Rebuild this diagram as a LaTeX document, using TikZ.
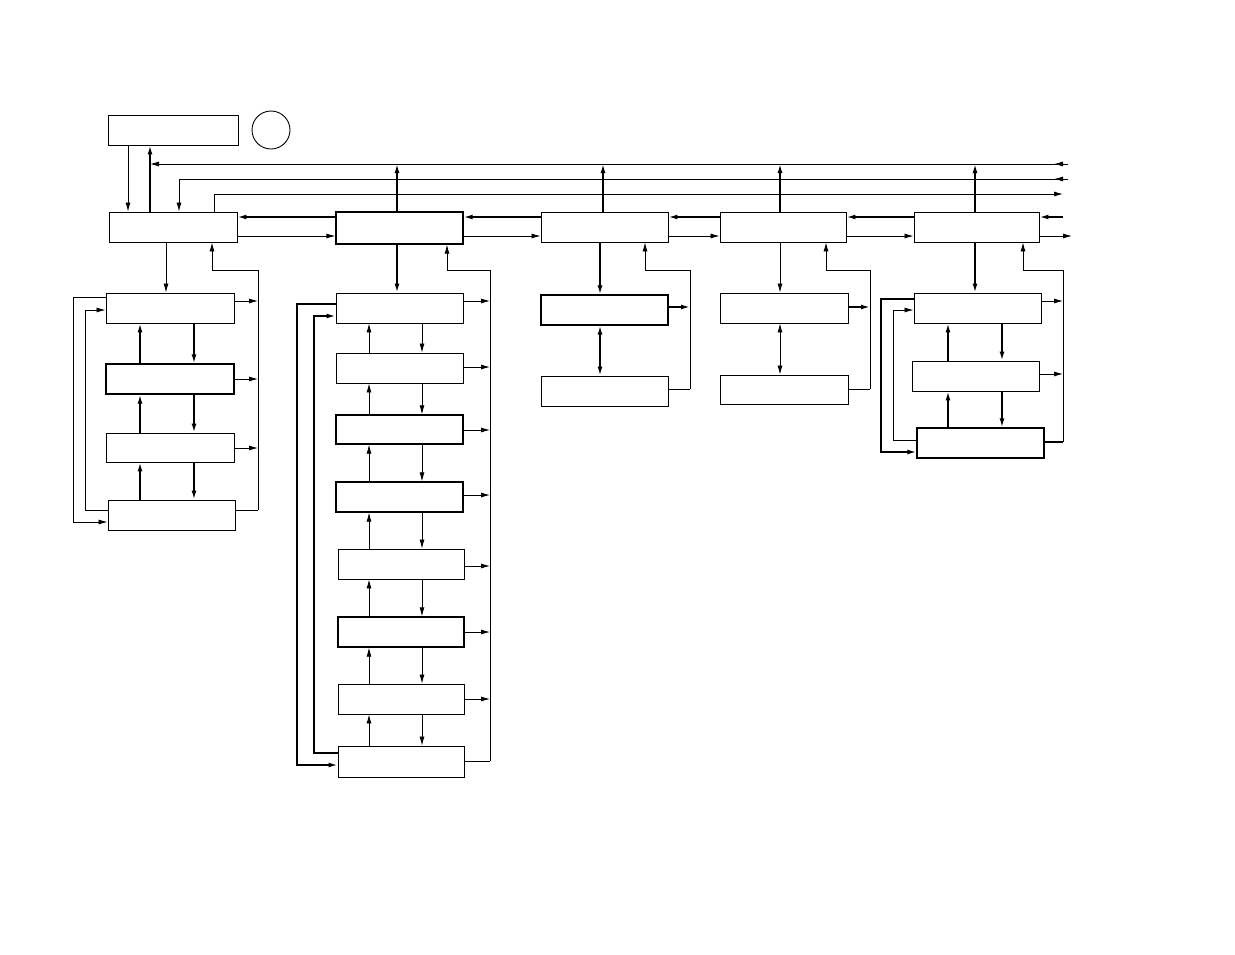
\documentclass[tikz,border=0pt]{standalone}
\usetikzlibrary{arrows.meta}
\begin{document}
\begin{tikzpicture}[x=1pt,y=-1pt,
  box/.style={draw,rectangle,inner sep=0pt,line width=0.9pt},
  tbox/.style={box,line width=1.3pt},
  thin/.style={line width=0.8pt},
  thick/.style={line width=1.6pt},
  ar/.style={-{Latex[length=9pt,width=5pt]}},
  dar/.style={{Latex[length=9pt,width=5pt]}-{Latex[length=9pt,width=5pt]}}]
\useasboundingbox (0,0) rectangle (1235,954);
\newcommand\bx[6]{\node[#6,minimum width={#4-#2},minimum height={#5-#3}] (#1) at ({(#2+#4)/2},{(#3+#5)/2}) {};}
\bx{T}{108}{115}{238}{145}{box}
\node[draw,circle,minimum size=38pt,inner sep=0pt,line width=0.9pt] (O) at (271,130) {};
\bx{A}{109}{212}{237}{242}{box}
\bx{B}{336}{212}{463}{244}{tbox}
\bx{C}{541}{212}{668}{242}{box}
\bx{D}{720}{212}{846}{242}{box}
\bx{E}{914}{212}{1039}{242}{box}
% A column
\bx{A1}{106}{293}{234}{323}{box}
\bx{A2}{106}{364}{234}{394}{tbox}
\bx{A3}{106}{433}{234}{462}{box}
\bx{A4}{108}{500}{235}{530}{box}
% B column
\bx{B1}{336}{293}{463}{323}{box}
\bx{B2}{336}{353}{463}{383}{box}
\bx{B3}{336}{415}{463}{444}{tbox}
\bx{B4}{336}{482}{463}{512}{tbox}
\bx{B5}{338}{549}{464}{579}{box}
\bx{B6}{338}{617}{464}{647}{tbox}
\bx{B7}{338}{684}{464}{714}{box}
\bx{B8}{338}{746}{464}{777}{box}
% C, D
\bx{C1}{541}{295}{668}{325}{tbox}
\bx{C2}{541}{376}{668}{406}{box}
\bx{D1}{720}{293}{848}{323}{box}
\bx{D2}{720}{375}{848}{404}{box}
% E
\bx{E1}{914}{293}{1041}{323}{box}
\bx{E2}{912}{361}{1039}{391}{box}
\bx{E3}{917}{428}{1044}{458}{tbox}
% bus ends on the right
\coordinate (r1) at (1063,164);
\coordinate (r2) at (1063,179);
\coordinate (r3) at (1063,194);
\coordinate (r4) at (1063,217);
\coordinate (r5) at (1072,236);
% top buses
\draw[thin,ar] (r1) -- (150,164);
\draw[thin,ar] (1068,164) -- (1054,164);
\draw[thin,ar] (1068,179) -- (1054,179);
\draw[thin] (r2) -- (179,179);
\draw[thin,ar] (179,179) -- (A.north -| 179,0);
\draw[thin,ar] (A.north -| 214,0) -- (214,194) -- (r3);
\draw[thin,ar] (T.south -| 128,0) -- (A.north -| 128,0);
\draw[thick,ar] (A.north -| 150,0) -- (T.south -| 150,0);
\foreach \n/\x in {B/397,C/603,D/780,E/975}
  \draw[thick,ar] (\n.north -| \x,0) -- (\x,164);
% row horizontal links
\foreach \l/\r in {A/B,B/C,C/D,D/E}{
  \draw[thick,ar] (\r.west |- 0,217) -- (\l.east |- 0,217);
  \draw[thin,ar] (\l.east |- 0,236) -- (\r.west |- 0,236);}
\draw[thick,ar] (r4) -- (E.east |- 0,217);
\draw[thin,ar] (E.east |- 0,236) -- (r5);
% A column
\draw[thin,ar] (A.south -| 166,0) -- (A1.north -| 166,0);
\draw[thin,ar] (258,510) -- (258,270) -- (212,270) -- (A.south -| 212,0);
\draw[thin] (A4.east |- 0,510) -- (258,510);
\foreach \b/\y in {A1/301,A2/379,A3/448} \draw[thin,ar] (\b.east |- 0,\y) -- (258,\y);
\foreach \u/\d in {A1/A2,A2/A3,A3/A4}{
  \draw[thick,ar] (\d.north -| 140,0) -- (\u.south -| 140,0);
  \draw[thick,ar] (\u.south -| 194,0) -- (\d.north -| 194,0);}
\draw[thin,ar] (A1.west |- 0,297) -- (73,297) -- (73,522) -- (A4.west |- 0,522);
\draw[thin,ar] (A4.west |- 0,510) -- (85,510) -- (85,310) -- (A1.west |- 0,310);
% B column
\draw[thick,ar] (B.south -| 397,0) -- (B1.north -| 397,0);
\draw[thin,ar] (490,761) -- (490,270) -- (447,270) -- (B.south -| 447,0);
\draw[thin] (B8.east |- 0,761) -- (490,761);
\foreach \b/\y in {B1/301,B2/367,B3/430,B4/495,B5/566,B6/632,B7/699} \draw[thin,ar] (\b.east |- 0,\y) -- (490,\y);
\foreach \u/\d in {B1/B2,B2/B3,B3/B4,B4/B5,B5/B6,B6/B7,B7/B8}{
  \draw[thin,ar] (\d.north -| 369,0) -- (\u.south -| 369,0);
  \draw[thin,ar] (\u.south -| 422,0) -- (\d.north -| 422,0);}
\draw[thick,ar] (B1.west |- 0,304) -- (297,304) -- (297,765) -- (B8.west |- 0,765);
\draw[thick,ar] (B8.west |- 0,753) -- (314,753) -- (314,316) -- (B1.west |- 0,316);
% C column
\draw[thick,ar] (C.south -| 600,0) -- (C1.north -| 600,0);
\draw[thick,dar] (C1.south -| 600,0) -- (C2.north -| 600,0);
\draw[thin,ar] (690,389) -- (690,270) -- (645,270) -- (C.south -| 645,0);
\draw[thin] (C2.east |- 0,389) -- (690,389);
\draw[thick,ar] (C1.east |- 0,307) -- (690,307);
% D column
\draw[thin,ar] (D.south -| 780,0) -- (D1.north -| 780,0);
\draw[thin,dar] (D1.south -| 780,0) -- (D2.north -| 780,0);
\draw[thin,ar] (870,389) -- (870,270) -- (826,270) -- (D.south -| 826,0);
\draw[thin] (D2.east |- 0,389) -- (870,389);
\draw[thick,ar] (D1.east |- 0,307) -- (870,307);
% E column
\draw[thick,ar] (E.south -| 975,0) -- (E1.north -| 975,0);
\draw[thin,ar] (1063,442) -- (1063,270) -- (1023,270) -- (E.south -| 1023,0);
\draw[thick] (E3.east |- 0,442) -- (1063,442);
\foreach \b/\y in {E1/301,E2/374} \draw[thin,ar] (\b.east |- 0,\y) -- (1063,\y);
\foreach \u/\d in {E1/E2,E2/E3}{
  \draw[thick,ar] (\d.north -| 948,0) -- (\u.south -| 948,0);
  \draw[thick,ar] (\u.south -| 1002,0) -- (\d.north -| 1002,0);}
\draw[thick,ar] (E1.west |- 0,299) -- (881,299) -- (881,452) -- (E3.west |- 0,452);
\draw[thin,ar] (E3.west |- 0,440) -- (893,440) -- (893,310) -- (E1.west |- 0,310);
\end{tikzpicture}
\end{document}
